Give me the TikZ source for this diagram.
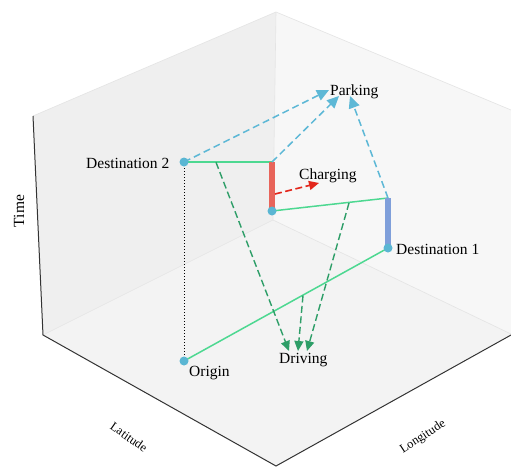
\documentclass[tikz,border=0pt]{standalone}
\usepackage{fontspec}
\setmainfont{Liberation Serif}
\usetikzlibrary{arrows.meta}
\definecolor{wallL}{HTML}{EFEFEF}
\definecolor{wallR}{HTML}{F7F7F7}
\definecolor{floorc}{HTML}{F3F3F3}
\definecolor{edgec}{HTML}{E4E4E4}
\definecolor{axisc}{HTML}{333333}
\definecolor{dotc}{HTML}{5AB6D3}
\definecolor{roadc}{HTML}{4DD891}
\definecolor{drivec}{HTML}{2E9E68}
\definecolor{parkc}{HTML}{5DB8D6}
\definecolor{chargebar}{HTML}{E8645A}
\definecolor{chargearr}{HTML}{E3271C}
\definecolor{destbar}{HTML}{7F9FDA}
\pgfdeclarelayer{walls}
\pgfdeclarelayer{bg}
\pgfsetlayers{walls,bg,main}
\begin{document}
\begin{tikzpicture}[x=1pt,y=-1pt,
  dotnode/.style={circle,fill=dotc,inner sep=0pt,minimum size=9pt},
  lbl/.style={inner sep=0pt,font=\fontsize{15.5}{18}\selectfont},
  axlbl/.style={inner sep=0pt,font=\fontsize{12.5}{15}\selectfont},
  road/.style={draw=roadc,line width=1.5pt},
  todrive/.style={draw=drivec,line width=1.4pt,dash pattern=on 7pt off 3.5pt,-{Triangle[length=10pt,width=9pt]}},
  topark/.style={draw=parkc,line width=1.5pt,dash pattern=on 7pt off 4pt,-{Triangle[length=12pt,width=11pt]}},
  tocharge/.style={draw=chargearr,line width=1.6pt,dash pattern=on 7pt off 3.5pt,-{Triangle[length=10pt,width=9pt]}},
  bar/.style={line width=6.7pt}]
\useasboundingbox (0,0) rectangle (511,466);
\begin{pgfonlayer}{walls}
\fill[white] (0,0) rectangle (511,466);
\fill[wallL] (33,116) -- (276,12) -- (273,220) -- (43,335) -- cycle;
\fill[wallR] (276,12) -- (511,110) -- (511,334) -- (273,220) -- cycle;
\fill[floorc] (43,335) -- (273,220) -- (511,334) -- (276,466) -- cycle;
\draw[edgec,line width=0.6pt] (33,116) -- (276,12) -- (511,110);
\draw[edgec,line width=0.6pt] (276,12) -- (273,220);
\draw[edgec,line width=0.6pt] (43,335) -- (273,220) -- (511,334);
\draw[axisc,line width=1pt] (33,116) -- (43,335) -- (276,466) -- (511,335);
\end{pgfonlayer}
% points
\node[dotnode] (d2) at (184,162) {};
\node[dotnode] (orig) at (184,361) {};
\node[dotnode] (chB) at (272,211) {};
\node[dotnode] (d1) at (388,248) {};
\coordinate (chT) at (272,162);
\coordinate (d1T) at (388,198);
\coordinate (m1) at (216,162.3);
\coordinate (m2) at (349,203);
\coordinate (m3) at (303,295.5);
\coordinate (dr1) at (289,351);
\coordinate (dr2) at (298,351);
\coordinate (dr3) at (307,351);
\coordinate (p1) at (329,90);
\coordinate (p2) at (339,96);
\coordinate (p3) at (350,96);
\coordinate (cs) at (275,194);
\coordinate (ce) at (319,183);
% labels
\node[lbl,anchor=base west] (ld2) at (86,168) {Destination 2};
\node[lbl,anchor=base west] (ld1) at (396,254) {Destination 1};
\node[lbl,anchor=base west] (lpark) at (330,95) {Parking};
\node[lbl,anchor=base west] (lch) at (299,179) {Charging};
\node[lbl,anchor=base west] (ldr) at (279,363) {Driving};
\node[lbl,anchor=base west] (lor) at (189,376) {Origin};
\node[lbl,rotate=90] (ltime) at (19,211) {Time};
\node[axlbl,rotate=-35] (llat) at (129,437) {Latitude};
\node[axlbl,rotate=33] (llon) at (423,437) {Longitude};
\begin{pgfonlayer}{bg}
\draw[black,line width=1pt,dotted] (d2.center) -- (orig.center);
\draw[road] (d2.center) -- (chT);
\draw[road] (chB.center) -- (d1T);
\draw[road] (orig.center) -- (d1.center);
\draw[bar,chargebar] (chT) -- (chB.center);
\draw[bar,destbar] (d1T) -- (d1.center);
\draw[todrive] (m1) -- (dr1);
\draw[todrive] (m3) -- (dr2);
\draw[todrive] (m2) -- (dr3);
\draw[topark] (d2.center) -- (p1);
\draw[topark] (chT) -- (p2);
\draw[topark] (d1T) -- (p3);
\draw[tocharge] (cs) -- (ce);
\end{pgfonlayer}
\end{tikzpicture}
\end{document}
